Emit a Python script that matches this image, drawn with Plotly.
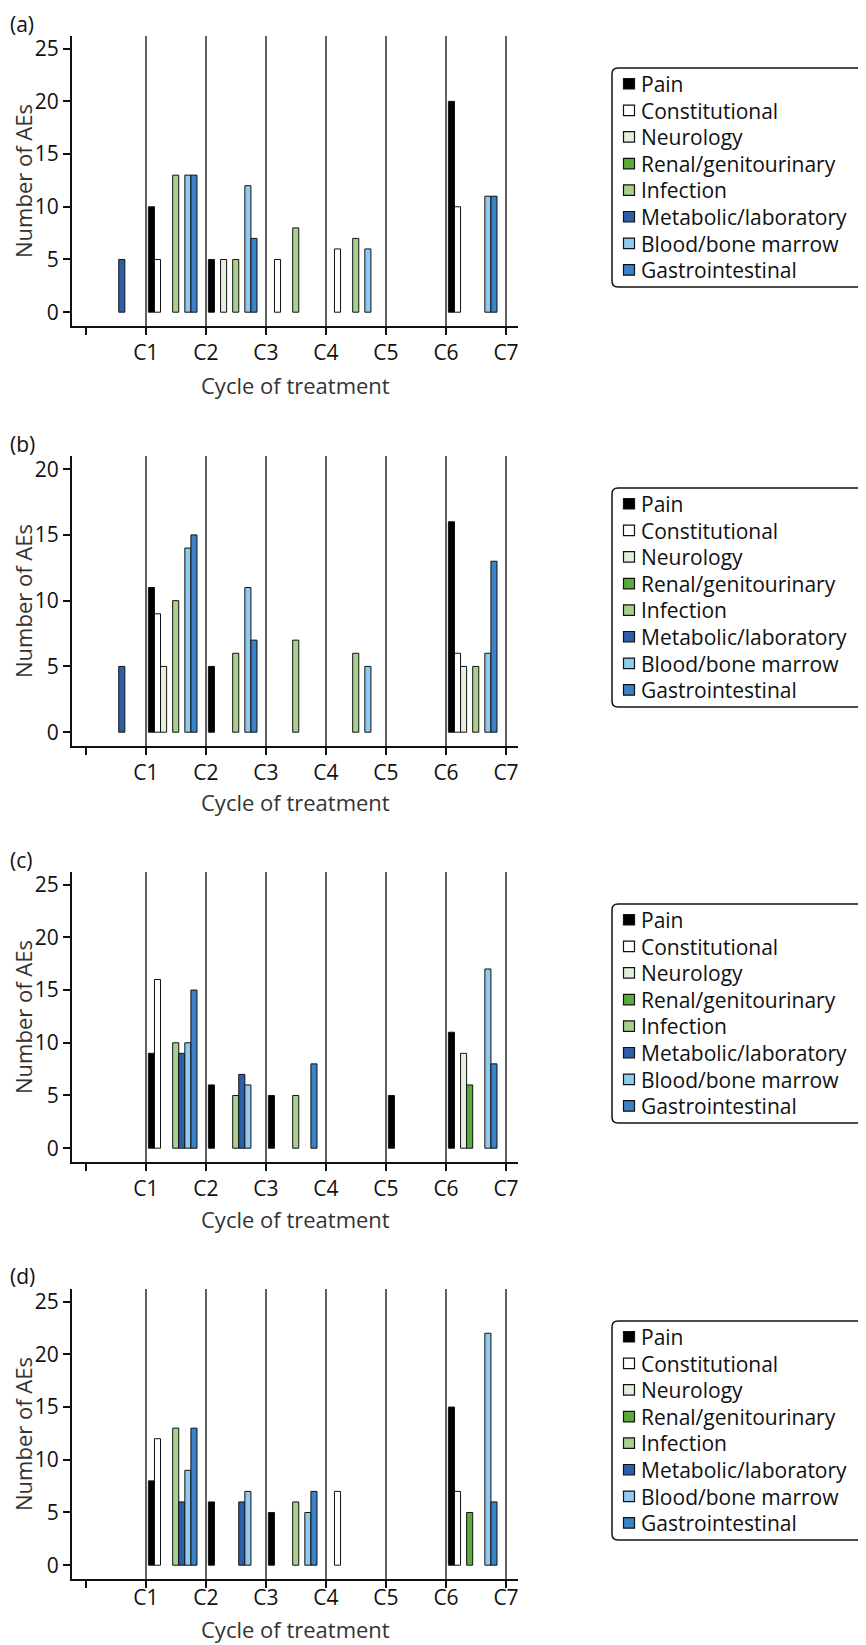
"""Adverse events per cycle of treatment, four panels (a)-(d)."""

import numpy as np
import plotly.graph_objects as go

# ---------------------------------------------------------------- data
CATEGORIES = [
    "Pain",
    "Constitutional",
    "Neurology",
    "Renal/genitourinary",
    "Infection",
    "Metabolic/laboratory",
    "Blood/bone marrow",
    "Gastrointestinal",
]
CYCLE_TICKS = [0, 1, 2, 3, 4, 5, 6, 7]
CYCLE_LABELS = ["", "C1", "C2", "C3", "C4", "C5", "C6", "C7"]
PANEL_LABELS = ["(a)", "(b)", "(c)", "(d)"]
Y_TICKS = [
    [0, 5, 10, 15, 20, 25],
    [0, 5, 10, 15, 20],
    [0, 5, 10, 15, 20, 25],
    [0, 5, 10, 15, 20, 25],
]
Y_MAX = [26.2, 21.0, 26.2, 26.2]

N = None
# one value per interval: before C1, C1-C2, C2-C3, C3-C4, C4-C5, C5-C6, C6-C7
A_PAIN = [N, 10, 5, N, N, N, 20]
A_CONST = [N, 5, N, 5, 6, N, 10]
A_NEURO = [N, N, 5, N, N, N, N]
A_RENAL = [N, N, N, N, N, N, N]
A_INFECT = [N, 13, 5, 8, 7, N, N]
A_METAB = [5, N, N, N, N, N, N]
A_BLOOD = [N, 13, 12, N, 6, N, 11]
A_GI = [N, 13, 7, N, N, N, 11]

B_PAIN = [N, 11, 5, N, N, N, 16]
B_CONST = [N, 9, N, N, N, N, 6]
B_NEURO = [N, 5, N, N, N, N, 5]
B_RENAL = [N, N, N, N, N, N, N]
B_INFECT = [N, 10, 6, 7, 6, N, 5]
B_METAB = [5, N, N, N, N, N, N]
B_BLOOD = [N, 14, 11, N, 5, N, 6]
B_GI = [N, 15, 7, N, N, N, 13]

C_PAIN = [N, 9, 6, 5, N, 5, 11]
C_CONST = [N, 16, N, N, N, N, N]
C_NEURO = [N, N, N, N, N, N, 9]
C_RENAL = [N, N, N, N, N, N, 6]
C_INFECT = [N, 10, 5, 5, N, N, N]
C_METAB = [N, 9, 7, N, N, N, N]
C_BLOOD = [N, 10, 6, N, N, N, 17]
C_GI = [N, 15, N, 8, N, N, 8]

D_PAIN = [N, 8, 6, 5, N, N, 15]
D_CONST = [N, 12, N, N, 7, N, 7]
D_NEURO = [N, N, N, N, N, N, N]
D_RENAL = [N, N, N, N, N, N, 5]
D_INFECT = [N, 13, N, 6, N, N, N]
D_METAB = [N, 6, 6, N, N, N, N]
D_BLOOD = [N, 9, 7, 5, N, N, 22]
D_GI = [N, 13, N, 7, N, N, 6]

PANELS = [
    [A_PAIN, A_CONST, A_NEURO, A_RENAL, A_INFECT, A_METAB, A_BLOOD, A_GI],
    [B_PAIN, B_CONST, B_NEURO, B_RENAL, B_INFECT, B_METAB, B_BLOOD, B_GI],
    [C_PAIN, C_CONST, C_NEURO, C_RENAL, C_INFECT, C_METAB, C_BLOOD, C_GI],
    [D_PAIN, D_CONST, D_NEURO, D_RENAL, D_INFECT, D_METAB, D_BLOOD, D_GI],
]

# ---------------------------------------------------------------- style
COLORS = ["#000000", "#ffffff", "#e2efda", "#5aab3c",
          "#a9d08e", "#2e5ea8", "#8fcbee", "#3a83c8"]
FONT = "Open Sans"
INK = "#111111"
W, H = 866, 1645
PAGE_PAD = 8                              # browser body margin
PLOT_LEFT, PLOT_RIGHT = 72, 518           # screen px
PLOT_TOPS = [36, 456, 872, 1289]          # screen px from top
PLOT_H = 290
LABEL_Y = [24, 444, 860, 1276]
X_TITLE_Y = [385, 802, 1219, 1629]
TICKLABEL_SHIFT = [0, 0, 0, -8]           # last panel is squeezed at the page foot
# group of 8 bars sits slightly left of the interval centre
GROUP_POS = np.arange(7) + 0.445


def px_x(sx):
    return (sx - PAGE_PAD) / W


def px_y(sy):
    return 1 - (sy - PAGE_PAD) / H


def rounded_box(x0, y0, x1, y1, r=6):
    """SVG path (paper coords) of a rounded rectangle given in screen px."""
    pts = [
        f"M{px_x(x0 + r)},{px_y(y0)}",
        f"L{px_x(x1 - r)},{px_y(y0)}",
        f"Q{px_x(x1)},{px_y(y0)} {px_x(x1)},{px_y(y0 + r)}",
        f"L{px_x(x1)},{px_y(y1 - r)}",
        f"Q{px_x(x1)},{px_y(y1)} {px_x(x1 - r)},{px_y(y1)}",
        f"L{px_x(x0 + r)},{px_y(y1)}",
        f"Q{px_x(x0)},{px_y(y1)} {px_x(x0)},{px_y(y1 - r)}",
        f"L{px_x(x0)},{px_y(y0 + r)}",
        f"Q{px_x(x0)},{px_y(y0)} {px_x(x0 + r)},{px_y(y0)}",
        "Z",
    ]
    return " ".join(pts)


fig = go.Figure()
layout = {}
shapes = []
annotations = []

for p, series in enumerate(PANELS):
    n = "" if p == 0 else str(p + 1)
    xa, ya = f"x{n}", f"y{n}"
    top = PLOT_TOPS[p]

    for name, color, values in zip(CATEGORIES, COLORS, series):
        fig.add_trace(
            go.Bar(
                x=GROUP_POS,
                y=values,
                name=name,
                marker=dict(color=color, line=dict(color=INK, width=1)),
                xaxis=xa,
                yaxis=ya,
                showlegend=False,
            )
        )

    layout[f"xaxis{n}"] = dict(
        domain=[px_x(PLOT_LEFT), px_x(PLOT_RIGHT)],
        anchor=ya,
        range=[-0.233, 7.2],
        tickvals=CYCLE_TICKS,
        ticktext=CYCLE_LABELS,
        ticks="outside",
        ticklen=7,
        tickwidth=1.5,
        tickcolor=INK,
        ticklabelstandoff=TICKLABEL_SHIFT[p],
        showline=True,
        linecolor=INK,
        linewidth=2,
        showgrid=False,
        zeroline=False,
        tickfont=dict(family=FONT, size=21, color=INK),
        automargin=False,
    )
    ymax = Y_MAX[p]
    layout[f"yaxis{n}"] = dict(
        domain=[px_y(top + PLOT_H), px_y(top)],
        anchor=xa,
        range=[-0.05 * ymax, ymax],
        tickvals=Y_TICKS[p],
        ticks="outside",
        ticklen=7,
        tickwidth=1.5,
        tickcolor=INK,
        showline=True,
        linecolor=INK,
        linewidth=2,
        showgrid=False,
        zeroline=False,
        tickfont=dict(family=FONT, size=21, color=INK),
        title=dict(text="Number of AEs", standoff=4,
                   font=dict(family=FONT, size=22, color="#333333")),
        automargin=False,
    )

    # x-axis title (placed by hand so panel (d) stays on the page)
    annotations.append(dict(
        text="Cycle of treatment", xref="paper", yref="paper",
        x=px_x((PLOT_LEFT + PLOT_RIGHT) / 2), y=px_y(X_TITLE_Y[p]),
        xanchor="center", yanchor="middle", showarrow=False,
        font=dict(family=FONT, size=22, color="#333333"),
    ))

    # cycle boundaries
    for c in CYCLE_TICKS[1:]:
        shapes.append(dict(
            type="line", xref=xa, yref=f"{ya} domain",
            x0=c, x1=c, y0=0, y1=1,
            line=dict(color="#3a3a3a", width=1.6), layer="below",
        ))

    # legend: rounded frame, colour keys and labels
    box_top = top + 32
    shapes.append(dict(
        type="path", xref="paper", yref="paper",
        path=rounded_box(612, box_top, 864, box_top + 219),
        line=dict(color=INK, width=1.5),
    ))
    for k, (name, color) in enumerate(zip(CATEGORIES, COLORS)):
        yc = box_top + 16 + k * 26.6
        shapes.append(dict(
            type="rect", xref="paper", yref="paper",
            x0=px_x(623.5), x1=px_x(634.5), y0=px_y(yc + 5), y1=px_y(yc - 5.5),
            fillcolor=color, line=dict(color=INK, width=1.2),
        ))
        annotations.append(dict(
            text=name, xref="paper", yref="paper",
            x=px_x(639), y=px_y(yc), xanchor="left", yanchor="middle",
            showarrow=False, font=dict(family=FONT, size=21, color=INK),
        ))

    annotations.append(dict(
        text=PANEL_LABELS[p], xref="paper", yref="paper",
        x=px_x(PAGE_PAD), y=px_y(LABEL_Y[p]), xanchor="left", yanchor="middle",
        showarrow=False, font=dict(family=FONT, size=21, color=INK),
    ))

fig.update_layout(
    **layout,
    width=W,
    height=H,
    margin=dict(l=0, r=0, t=0, b=0),
    barmode="group",
    bargap=0.19,
    bargroupgap=0,
    plot_bgcolor="white",
    paper_bgcolor="white",
    shapes=shapes,
    annotations=annotations,
    showlegend=False,
)

fig.write_html("out.html")
